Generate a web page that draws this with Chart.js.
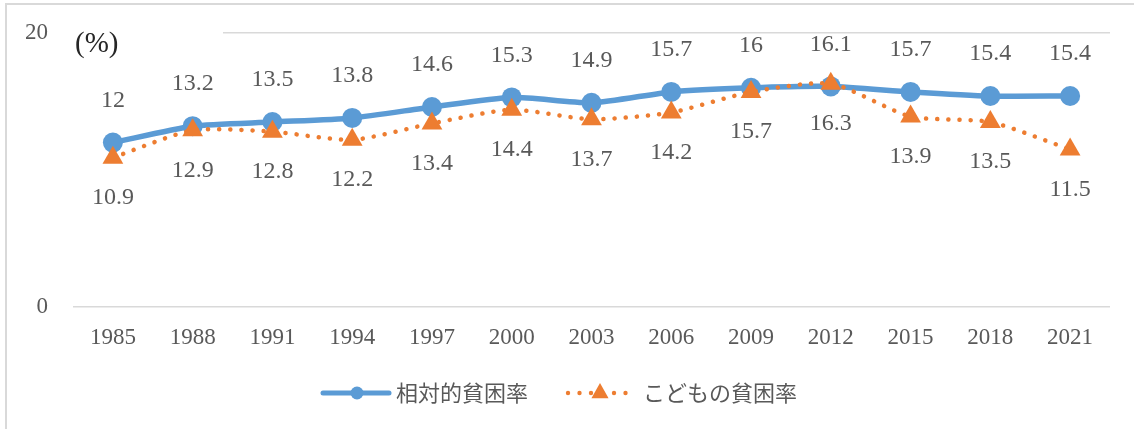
<!DOCTYPE html>
<html>
<head>
<meta charset="utf-8">
<script src="https://cdn.jsdelivr.net/npm/chart.js@4.4.1/dist/chart.umd.min.js"></script>
<style>
body { margin: 0; background: #fff; }
#wrap { position: relative; width: 1134px; height: 429px; overflow: hidden; }
#frame { position: absolute; left: 5px; top: 3px; width: 1300px; height: 700px; border: 2px solid #d9d9d9; }
#c { position: absolute; left: 0; top: 0; }
</style>
</head>
<body>
<div id="wrap">
    <div id="frame"></div>
    <canvas id="c" width="1134" height="429"></canvas>
</div>
<script>
let years = ["1985", "1988", "1991", "1994", "1997", "2000", "2003", "2006", "2009", "2012", "2015", "2018", "2021"];
let relativeRate = [12, 13.2, 13.5, 13.8, 14.6, 15.3, 14.9, 15.7, 16, 16.1, 15.7, 15.4, 15.4];
let childRate = [10.9, 12.9, 12.8, 12.2, 13.4, 14.4, 13.7, 14.2, 15.7, 16.3, 13.9, 13.5, 11.5];
let yTicks = [0, 20];
let seriesNames = ["相対的貧困率", "こどもの貧困率"];
let unitLabel = "(%)";

const blue = "#5B9BD5";
const orange = "#ED7D31";
const textGray = "#595959";
const numFont = "'Liberation Serif', 'DejaVu Serif', serif";

function drawTriangle(ctx, x, y, r) {
    ctx.beginPath();
    ctx.moveTo(x, y - r);
    ctx.lineTo(x + r * 0.95, y + r * 0.7);
    ctx.lineTo(x - r * 0.95, y + r * 0.7);
    ctx.closePath();
    ctx.fill();
}

/* value labels above / below each point */
const valueLabels = {
    id: "valueLabels",
    afterDatasetsDraw(chart) {
        let ctx = chart.ctx;
        ctx.save();
        ctx.font = "24px " + numFont;
        ctx.fillStyle = textGray;
        ctx.textAlign = "center";
        ctx.textBaseline = "middle";
        chart.data.datasets.forEach((ds, i) => {
            let meta = chart.getDatasetMeta(i);
            let dy = i === 0 ? -42 : 40;
            meta.data.forEach((pt, j) => {
                ctx.fillText(String(ds.data[j]), pt.x, pt.y + dy);
            });
        });
        ctx.restore();
    }
};

/* "(%)" unit label sitting over the top gridline */
const unitPlugin = {
    id: "unitPlugin",
    beforeDatasetsDraw(chart) {
        let ctx = chart.ctx;
        let a = chart.chartArea;
        ctx.save();
        ctx.fillStyle = "#fff";
        ctx.fillRect(a.left - 2, a.top - 4, 152, 8);
        ctx.font = "29px " + numFont;
        ctx.fillStyle = "#262626";
        ctx.textAlign = "left";
        ctx.textBaseline = "middle";
        ctx.fillText(unitLabel, a.left + 2, a.top + 11);
        ctx.restore();
    }
};

/* legend at the bottom */
const legendPlugin = {
    id: "bottomLegend",
    afterDraw(chart) {
        let ctx = chart.ctx;
        let cx = chart.width / 2;
        let y = 393;
        ctx.save();

        // blue item
        let x0 = cx - 244;
        ctx.strokeStyle = blue;
        ctx.lineWidth = 5;
        ctx.lineCap = "round";
        ctx.beginPath();
        ctx.moveTo(x0, y);
        ctx.lineTo(x0 + 66, y);
        ctx.stroke();
        ctx.fillStyle = blue;
        ctx.beginPath();
        ctx.arc(x0 + 34, y, 6.5, 0, Math.PI * 2);
        ctx.fill();

        ctx.font = "22px 'Noto Sans CJK JP'";
        ctx.fillStyle = textGray;
        ctx.textBaseline = "middle";
        ctx.fillText(chart.data.datasets[0].label, x0 + 73, y);

        // orange item
        let x1 = cx + 1;
        ctx.fillStyle = orange;
        for (let k = 0; k < 6; k++) {
            ctx.beginPath();
            ctx.arc(x1 + k * 11.5, y, 2.2, 0, Math.PI * 2);
            ctx.fill();
        }
        drawTriangle(ctx, x1 + 32, y - 1, 9);

        ctx.fillStyle = textGray;
        ctx.fillText(chart.data.datasets[1].label, x1 + 75, y);
        ctx.restore();
    }
};

let ctx = document.getElementById("c").getContext("2d");

let chart = new Chart(ctx, {
    type: "line",
    data: {
        labels: years,
        datasets: [
            {
                label: seriesNames[0],
                data: relativeRate,
                borderColor: blue,
                backgroundColor: blue,
                borderWidth: 5.5,
                tension: 0.22,
                pointRadius: 10,
                pointBorderWidth: 0,
                pointBackgroundColor: blue,
                order: 1
            },
            {
                label: seriesNames[1],
                data: childRate,
                borderColor: orange,
                backgroundColor: orange,
                borderWidth: 4.5,
                borderDash: [0.1, 11],
                borderCapStyle: "round",
                tension: 0.22,
                pointStyle: "triangle",
                pointRadius: 12,
                pointBorderWidth: 0,
                pointBackgroundColor: orange,
                order: 0
            }
        ]
    },
    options: {
        responsive: false,
        animation: false,
        layout: {
            padding: { left: 0, top: 33, right: 24, bottom: 72 }
        },
        plugins: {
            legend: { display: false },
            tooltip: { enabled: false }
        },
        scales: {
            x: {
                offset: true,
                grid: { display: false },
                border: { display: false },
                ticks: {
                    color: textGray,
                    font: { family: numFont, size: 23 },
                    padding: 9,
                    maxRotation: 0,
                    autoSkip: false
                },
                afterFit(s) { s.height = 50; }
            },
            y: {
                min: 0,
                max: 20,
                afterBuildTicks(s) { s.ticks = yTicks.map(v => ({ value: v })); },
                grid: { color: "#d9d9d9", lineWidth: 1.5, drawTicks: false },
                border: { display: false },
                ticks: {
                    color: textGray,
                    font: { family: numFont, size: 23 },
                    padding: 25
                },
                afterFit(s) {
                    s.width = 73;
                    s.paddingTop = 0;
                    s.paddingBottom = 0;
                }
            }
        }
    },
    plugins: [unitPlugin, valueLabels, legendPlugin]
});
</script>
</body>
</html>
